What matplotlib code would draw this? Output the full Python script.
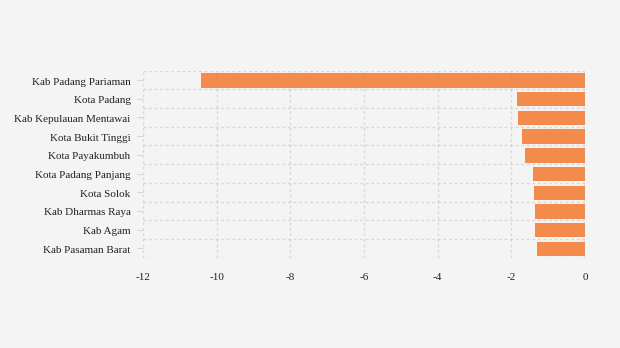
import matplotlib
matplotlib.use("Agg")
import matplotlib.pyplot as plt
import matplotlib.transforms as mtransforms
import numpy as np

categories = ["Kab Padang Pariaman", "Kota Padang", "Kab Kepulauan Mentawai",
              "Kota Bukit Tinggi", "Kota Payakumbuh", "Kota Padang Panjang",
              "Kota Solok", "Kab Dharmas Raya", "Kab Agam", "Kab Pasaman Barat"]
values = [-10.45, -1.88, -1.85, -1.75, -1.65, -1.44, -1.41, -1.38, -1.38, -1.34]
xticks = [-12, -10, -8, -6, -4, -2, 0]

plt.rcParams['font.family'] = ['Liberation Serif', 'DejaVu Serif']

fig = plt.figure(figsize=(6.2, 3.48), dpi=100)
fig.patch.set_facecolor("#f4f4f4")
ax = fig.add_axes([143/620, 1-257.7/348, (585-143)/620, (257.7-70.7)/348])
ax.set_facecolor("#f4f4f4")

y = np.arange(len(categories))
ax.barh(y, values, height=0.82, color="#f38b4c", edgecolor="#fbfbfb",
        linewidth=0.6, zorder=1)

ax.set_xlim(-12, 0)
ax.set_ylim(len(categories)-0.5, -0.5)
ax.set_xticks(xticks)
ax.set_xticklabels([str(t) for t in xticks], fontsize=8, color="#222222")
ax.set_yticks(y)
ax.set_yticklabels(categories, fontsize=8, color="#222222")
ax.set_yticks(np.arange(len(categories)+1)-0.5, minor=True)

ax.grid(True, axis="x", which="major", color="#9a9a9a", alpha=0.3,
        linestyle=(0, (2, 2)), linewidth=1, zorder=2)
ax.grid(True, axis="y", which="minor", color="#9a9a9a", alpha=0.3,
        linestyle=(0, (2, 2)), linewidth=1, zorder=2)
ax.axvline(0, color="#aaaaaa", linestyle=(0, (2, 2)), linewidth=1, zorder=3)
ax.set_axisbelow(False)

for s in ax.spines.values():
    s.set_visible(False)
ax.tick_params(axis="x", length=0, pad=11)
ax.tick_params(axis="y", which="major", length=4, color="#d6d6d6", pad=5)
ax.tick_params(axis="y", which="minor", length=0)

off = mtransforms.ScaledTranslation(0, -1/100, fig.dpi_scale_trans)
for lbl in ax.get_yticklabels():
    lbl.set_transform(lbl.get_transform() + off)

fig.savefig("out.png", dpi=100, facecolor=fig.get_facecolor())
